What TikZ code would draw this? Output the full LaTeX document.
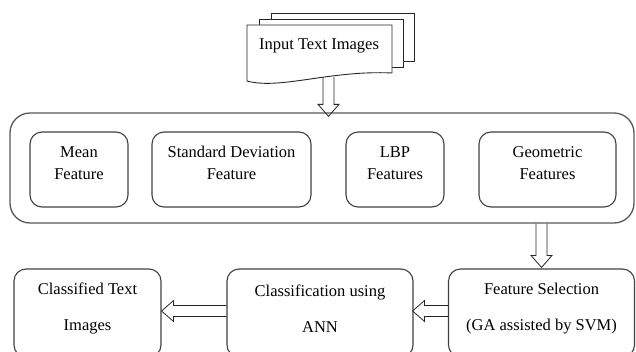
\documentclass[tikz,border=0pt]{standalone}
\usepackage{fontspec}
\setmainfont{Liberation Serif}
\usetikzlibrary{calc}

\tikzset{
  x=1pt, y=-1pt,
  txt/.style={font=\fontsize{16.5}{22}\selectfont, align=center, text=black},
  docline/.style={draw=black!85, line width=0.9pt, fill=white},
  bigbox/.style={draw=black!65, line width=1.3pt, rounded corners=20pt, minimum width=624pt, minimum height=110pt},
  inbox/.style={draw=black!75, line width=1.1pt, rounded corners=12pt, minimum height=75pt},
  lowbox/.style={draw=black!75, line width=1.1pt, rounded corners=12pt, minimum height=88pt},
  lbl/.style={txt, yshift=6.5pt},
  % hollow block arrow from the start point to the target point
  blockarrow/.style={draw=black!85, line width=0.8pt, line join=miter,
    to path={
      ($(\tikztotarget)!12pt!(\tikztostart)$) coordinate (bab)
      ($(\tikztostart)!5.5pt!90:(\tikztotarget)$)
      -- ($(bab)!5.5pt!90:(\tikztotarget)$)
      -- ($(bab)!10.5pt!90:(\tikztotarget)$)
      -- (\tikztotarget)
      -- ($(bab)!10.5pt!-90:(\tikztotarget)$)
      -- ($(bab)!5.5pt!-90:(\tikztotarget)$)
      -- ($(\tikztostart)!5.5pt!-90:(\tikztotarget)$)
    }},
}

\begin{document}
\begin{tikzpicture}
\useasboundingbox (0,0) rectangle (636,351);
\clip (0,0) rectangle (636,351);

% stack of input documents
\draw[docline] (271,13) rectangle (414,61);
\draw[docline] (259,19) rectangle (403,67);
\draw[docline] (247,81) -- (247,25) -- (392,25) -- (392,73)
  .. controls (330,70) and (280,90) .. (247,81) -- cycle;
\node[txt] (doc) at (319,46) {Input Text Images};
\coordinate (docbot) at (328.5,77);

% feature extraction group
\node[bigbox] (feat) at (322,168) {};
\node[inbox, minimum width=98pt,  label={[lbl]center:Mean\\Feature}] (mean) at (79,169.5) {};
\node[inbox, minimum width=159pt, label={[lbl]center:Standard Deviation\\Feature}] (std) at (231.5,169.5) {};
\node[inbox, minimum width=98pt,  label={[lbl]center:LBP\\Features}] (lbp) at (395,169.5) {};
\node[inbox, minimum width=137pt, label={[lbl]center:Geometric\\Features}] (geo) at (547.5,169.5) {};

% lower processing row
\node[lowbox, minimum width=147pt, label={[lbl, yshift=-2pt]center:Classified Text\\[14pt]Images}] (cls) at (87.5,313) {};
\node[lowbox, minimum width=186pt, label={[lbl, yshift=-2pt]center:Classification using\\[14pt]ANN}] (ann) at (320,313) {};
\node[lowbox, minimum width=186pt, label={[lbl, yshift=-2pt]center:Feature Selection\\[14pt](GA assisted by SVM)}] (fs) at (541.5,313) {};

% block arrows
\draw[blockarrow] (docbot) to ([yshift=-4pt]docbot |- feat.north);
\draw[blockarrow] (fs.north |- feat.south) to ([yshift=1pt]fs.north);
\draw[blockarrow] ([yshift=2pt]fs.west) to ([yshift=2pt,xshift=-1pt]ann.east);
\draw[blockarrow] ([yshift=2pt]ann.west) to ([yshift=2pt]cls.east);
\end{tikzpicture}
\end{document}
